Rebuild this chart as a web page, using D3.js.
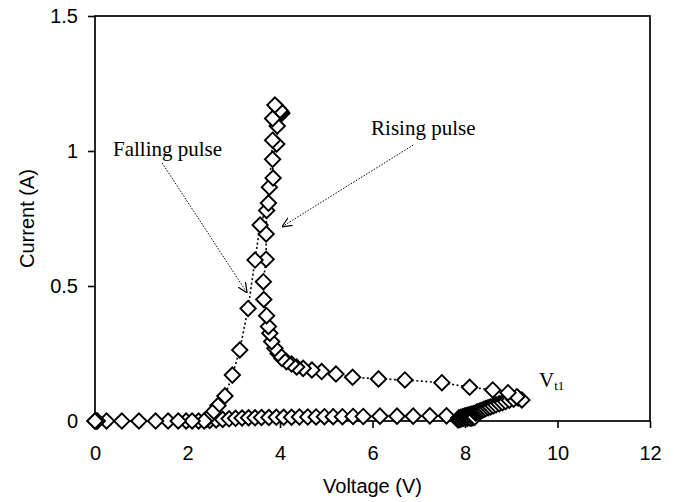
<!DOCTYPE html>
<html>
<head>
<meta charset="utf-8">
<script src="https://cdn.jsdelivr.net/npm/d3@7/dist/d3.min.js"></script>
<style>
  html, body { margin: 0; padding: 0; background: #fff; }
  svg { display: block; }
  .tick text { font-family: "Liberation Sans", Arial, sans-serif; font-size: 20px; fill: #000; }
  .axis-title { font-family: "Liberation Sans", Arial, sans-serif; font-size: 20px; fill: #000; }
  .note { font-family: "Liberation Serif", "Times New Roman", serif; font-size: 21px; fill: #000; }
</style>
</head>
<body>
<svg id="chart" width="674" height="502"></svg>
<script>
// TLP I-V curve: rising pulse then falling pulse, diamonds joined by a dotted line

// rising pulse: off-state along zero, trigger at Vt1, snapback, then up the column
const risingV = [0, 0.03, 0.25, 0.95, 1.58, 1.97, 2.24, 2.48, 2.62, 2.76, 2.9, 3.04, 3.18, 3.32,
  3.46, 3.6, 3.76, 3.92, 4.08, 4.25, 4.42, 4.6, 4.78, 4.96, 5.15, 5.35, 5.58, 5.8, 6.16, 6.53,
  6.88, 7.24, 7.6, 7.85, 7.87, 7.89, 7.91, 7.93, 7.95, 7.97, 7.99, 8.01, 8.03, 8.05, 8.07, 8.09,
  8.11, 8.13, 8.15, 8.17, 8.19, 8.21, 8.23, 8.25, 8.28, 8.31, 8.34, 8.37, 8.41, 8.45, 8.5,
  8.55, 8.61, 8.67, 8.74, 8.81, 8.88, 8.96, 9.05, 9.15, 9.23,
  9.12, 8.93, 8.6, 8.1, 7.5, 6.7, 6.13, 5.57, 5.21, 4.9, 4.69, 4.5, 4.36, 4.25, 4.14, 4.04,
  3.96, 3.89, 3.82, 3.78, 3.75, 3.71, 3.65, 3.64, 3.7, 3.7, 3.71, 3.77, 3.85, 3.84, 3.93,
  3.94, 3.96, 4.04, 4.02, 4.0];
const risingI = [0, 0, 0, 0, 0, 0, 0, 0.002, 0.004, 0.006, 0.008, 0.01, 0.011, 0.012,
  0.012, 0.013, 0.013, 0.014, 0.014, 0.014, 0.015, 0.015, 0.015, 0.016, 0.016, 0.016, 0.017, 0.017, 0.018, 0.018,
  0.018, 0.019, 0.019, 0.004, 0.012, 0.006, 0.014, 0.008, 0.016, 0.01, 0.018, 0.012, 0.02, 0.01, 0.022, 0.012,
  0.024, 0.01, 0.026, 0.012, 0.028, 0.014, 0.03, 0.032, 0.034, 0.036, 0.038, 0.04, 0.043, 0.046, 0.049,
  0.052, 0.056, 0.06, 0.064, 0.068, 0.072, 0.077, 0.081, 0.085, 0.078,
  0.09, 0.105, 0.115, 0.125, 0.142, 0.152, 0.156, 0.162, 0.174, 0.183, 0.189, 0.195, 0.2, 0.211, 0.22, 0.232,
  0.25, 0.269, 0.294, 0.325, 0.35, 0.39, 0.45, 0.516, 0.599, 0.693, 0.78, 0.866, 0.9, 0.969, 1.026,
  1.093, 1.158, 1.14, 1.145, 1.15];

// falling pulse: from the top of the column back down to zero
const fallingV = [3.89, 3.84, 3.84, 3.75, 3.57, 3.46, 3.31, 3.13, 2.97, 2.81, 2.66, 2.54, 2.41,
  2.36, 2.1, 1.8, 1.31, 0.58, 0.05, 0];
const fallingI = [1.17, 1.12, 1.04, 0.807, 0.726, 0.596, 0.417, 0.263, 0.17, 0.093, 0.057, 0.031, 0.006,
  0, 0, 0, 0, 0, 0, 0];

// axis ticks
const xTicks = [0, 2, 4, 6, 8, 10, 12];
const yTicks = [0, 0.5, 1, 1.5];

// text notes, anchored in data units
const notes = [
  { text: "Falling pulse", v: 0.39, i: 0.981 },
  { text: "Rising pulse", v: 5.97, i: 1.058 }
];
const arrows = [
  { v1: 1.45, i1: 0.956, v2: 3.29, i2: 0.474 },
  { v1: 6.88, i1: 1.022, v2: 4.04, i2: 0.719 }
];

const margin = { top: 16, right: 24, bottom: 81, left: 95 };
const svg = d3.select('#chart');
const W = +svg.attr('width') - margin.left - margin.right;
const H = +svg.attr('height') - margin.top - margin.bottom;
const g = svg.append('g').attr('transform', `translate(${margin.left},${margin.top})`);

const x = d3.scaleLinear().domain([0, 12]).range([0, W]);
const y = d3.scaleLinear().domain([0, 1.5]).range([H, 0]);

// arrowhead (open V)
svg.append('defs').append('marker')
  .attr('id', 'arr')
  .attr('viewBox', '0 0 10 10')
  .attr('refX', 10).attr('refY', 5)
  .attr('markerWidth', 10).attr('markerHeight', 10)
  .attr('markerUnits', 'userSpaceOnUse')
  .attr('orient', 'auto')
  .append('path')
  .attr('d', 'M0,0.5L10,5L0,9.5')
  .attr('fill', 'none')
  .attr('stroke', '#000')
  .attr('stroke-width', 1.2);

// axes
const xAxis = g.append('g')
  .attr('transform', `translate(0,${H})`)
  .call(d3.axisBottom(x).tickValues(xTicks).tickSize(7).tickSizeOuter(0).tickPadding(18));
const yAxis = g.append('g')
  .call(d3.axisLeft(y).tickValues(yTicks).tickSize(7).tickSizeOuter(0).tickPadding(10)
    .tickFormat(d3.format('')));
[xAxis, yAxis].forEach(a => {
  a.select('.domain').remove();
  a.selectAll('.tick line').attr('stroke', '#000').attr('stroke-width', 1.6);
});

// plot frame
g.append('rect')
  .attr('x', 0).attr('y', 0).attr('width', W).attr('height', H)
  .attr('fill', 'none').attr('stroke', '#000').attr('stroke-width', 1.7);

// series
const line = d3.line().x(d => x(d[0])).y(d => y(d[1]));
const diamond = d3.symbol().type(d3.symbolSquare).size(118);
const series = [
  d3.zip(risingV, risingI),
  d3.zip(fallingV, fallingI)
];

series.forEach(pts => {
  g.append('path')
    .datum(pts)
    .attr('d', line)
    .attr('fill', 'none')
    .attr('stroke', '#000')
    .attr('stroke-width', 1.6)
    .attr('stroke-dasharray', '2,2.5');
});
series.forEach(pts => {
  g.append('g').selectAll('path')
    .data(pts)
    .enter()
    .append('path')
    .attr('d', diamond)
    .attr('transform', d => `translate(${x(d[0])},${y(d[1])}) rotate(45)`)
    .attr('fill', '#fff')
    .attr('stroke', '#000')
    .attr('stroke-width', 1.9);
});

// annotations
arrows.forEach(a => {
  g.append('line')
    .attr('x1', x(a.v1)).attr('y1', y(a.i1))
    .attr('x2', x(a.v2)).attr('y2', y(a.i2))
    .attr('stroke', '#000')
    .attr('stroke-width', 1)
    .attr('stroke-dasharray', '1.5,1.5')
    .attr('marker-end', 'url(#arr)');
});
notes.forEach(n => {
  g.append('text')
    .attr('class', 'note')
    .attr('x', x(n.v)).attr('y', y(n.i))
    .text(n.text);
});
const vt = g.append('text')
  .attr('class', 'note')
  .attr('x', x(9.6)).attr('y', y(0.126));
vt.append('tspan').text('V');
vt.append('tspan').attr('dy', 3).style('font-size', '13px').text('t1');

// axis titles
svg.append('text')
  .attr('class', 'axis-title')
  .attr('x', margin.left + W / 2).attr('y', 493)
  .attr('text-anchor', 'middle')
  .text('Voltage (V)');
svg.append('text')
  .attr('class', 'axis-title')
  .attr('transform', `translate(34,${margin.top + H / 2}) rotate(-90)`)
  .attr('text-anchor', 'middle')
  .text('Current (A)');
</script>
</body>
</html>
